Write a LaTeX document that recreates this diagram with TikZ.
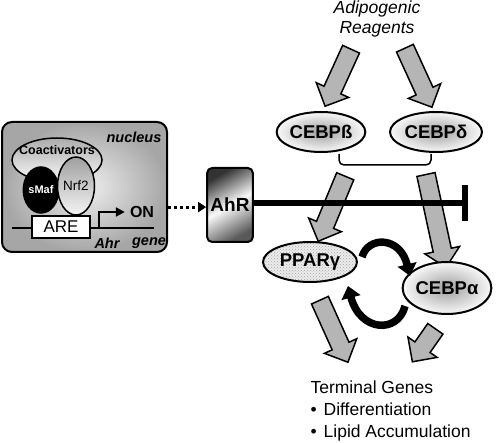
\documentclass[tikz,border=0pt]{standalone}
\usepackage{fontspec}
\setmainfont{Liberation Sans}
\usetikzlibrary{arrows.meta,shapes.geometric,shapes.arrows,patterns,calc}

% wide grey arrow from #1 to #2
\newcommand{\fatarrow}[2]{%
	\path let \p1=($(#2)-(#1)$), \n1={atan2(\y1,\x1)}, \n2={veclen(\x1,\y1)} in
		($(#1)!0.5!(#2)$) node[fat arrow,rotate=\n1,minimum height=\n2] {};}

\begin{document}
\begin{tikzpicture}[x=1pt,y=-1pt,
		nucleus box/.style={rectangle,draw,line width=2pt,rounded corners=10pt,minimum width=165pt,minimum height=130pt,inner color=gray!12,outer color=gray!70},
		cebp node/.style={ellipse,draw,line width=2pt,inner sep=0pt,font=\fontsize{18.5}{20}\selectfont\bfseries,inner color=gray!75,outer color=gray!5},
		fat arrow/.style={single arrow,draw,line width=1.5pt,fill=gray!58,inner xsep=0pt,inner ysep=8.5pt,
			single arrow head extend=8.5pt,single arrow tip angle=90},
		cycle arrow/.style={line width=7.5pt,-{Triangle[width=19pt,length=12pt]}},
		big text/.style={font=\fontsize{17.5}{22}\selectfont}]
	\useasboundingbox (0,0) rectangle (496,443);
	%
	% Nucleus with the Ahr gene.
	\node[nucleus box] (nuc) at (84.5,187) {};
	\node[font=\fontsize{14.5}{16}\selectfont\bfseries\itshape] (nlab) at (134,137) {nucleus};
	\node[ellipse,draw,line width=1.5pt,minimum width=90pt,minimum height=44pt,top color=gray!65,bottom color=gray!5] (coa) at (57,160) {};
	\node[font=\fontsize{12.5}{14}\selectfont\bfseries] (coalab) at ([yshift=10pt]coa.center) {Coactivators};
	\node[ellipse,draw,line width=1.5pt,fill=black,text=white,inner sep=0pt,minimum width=28pt,minimum height=46pt,font=\fontsize{11}{13}\selectfont\bfseries] (smaf) at (41,190) {sMaf};
	\node[ellipse,draw,line width=1.5pt,inner sep=0pt,minimum width=37pt,minimum height=58pt,top color=gray!75,bottom color=gray!8,font=\fontsize{13.5}{15}\selectfont] (nrf) at (76,186) {Nrf2};
	\coordinate (g1) at (12,228);
	\coordinate (g2) at (154,228);
	\coordinate (tss) at (99,228);
	\draw[line width=2pt] (g1) -- (g2);
	\node[rectangle,draw,line width=1.5pt,fill=white,minimum width=58pt,minimum height=22pt,font=\fontsize{17}{18}\selectfont] (are) at (61,227) {ARE};
	\node[font=\fontsize{16}{17}\selectfont\bfseries,inner sep=2pt] (on) at (142,212) {ON};
	\draw[line width=2pt,-{Triangle[width=9pt,length=9pt]},shorten >=3pt] (tss) |- (on.west);
	\node[font=\fontsize{14.5}{16}\selectfont\bfseries\itshape] (ahrg) at (107,243) {Ahr};
	\node[font=\fontsize{14.5}{16}\selectfont\bfseries\itshape] (gene) at (149,243) {gene};
	%
	% AhR protein.
	\node[rectangle,draw,line width=2pt,rounded corners=5pt,minimum width=44pt,minimum height=74pt,
		left color=black!80,right color=black!65,middle color=gray!5,shading angle=30,
		font=\fontsize{19}{21}\selectfont\bfseries] (ahr) at (230,205) {AhR};
	\draw[line width=3pt,dash pattern=on 3pt off 3pt,-{Triangle[width=10pt,length=8pt]}] (nuc.east |- ahr.185) -- (ahr.185);
	%
	% Grey arrows of the cascade.
	\coordinate (reag l) at (353,45);
	\coordinate (reag r) at (403,44);
	\coordinate (cb in) at (327,102);
	\coordinate (cd in) at (430,103);
	\coordinate (br l) at (347,172);
	\coordinate (br r) at (425,170);
	\coordinate (pp in) at (320,237);
	\coordinate (ca in) at (445,263);
	\coordinate (pp out) at (318,296);
	\coordinate (ca out) at (438,325);
	\coordinate (tg l) at (346,358);
	\coordinate (tg r) at (415,358);
	\fatarrow{reag l}{cb in}
	\fatarrow{reag r}{cd in}
	\fatarrow{br l}{pp in}
	\fatarrow{br r}{ca in}
	\fatarrow{pp out}{tg l}
	\fatarrow{ca out}{tg r}
	%
	\node[align=center,font=\fontsize{17.5}{20}\selectfont\itshape] (reag) at (377,19) {Adipogenic\\Reagents};
	\node[cebp node,minimum width=88pt,minimum height=40pt] (cebpb) at (321,132) {CEBPß};
	\node[cebp node,minimum width=92pt,minimum height=40pt] (cebpd) at (436,132) {CEBPδ};
	\node[ellipse,draw,line width=2pt,inner sep=0pt,minimum width=94pt,minimum height=40pt,
		preaction={fill=gray!15},pattern=crosshatch dots,pattern color=gray!70,
		font=\fontsize{18.5}{20}\selectfont\bfseries] (ppar) at (310,262) {PPARγ};
	\node[cebp node,minimum width=88pt,minimum height=52pt] (cebpa) at (447,288) {CEBPα};
	\node[big text,align=left,anchor=north west] (tg) at (307,377)
		{Terminal Genes\\\textbullet\hspace{7pt}Differentiation\\\textbullet\hspace{7pt}Lipid Accumulation};
	%
	% Bracket joining CEBPß and CEBPδ.
	\coordinate (bk l) at (339,154);
	\coordinate (bk m) at (385,165);
	\coordinate (bk r) at (431,154);
	\draw[line width=1.5pt,rounded corners=5pt] (bk l) |- (bk m) -| (bk r);
	%
	% AhR blocks the cascade.
	\coordinate (stop) at (468,204);
	\draw[line width=6pt,-{Bar[width=36pt]}] (ahr.5) -- (ahr.5 -| stop);
	%
	% PPARγ and CEBPα induce each other.
	\coordinate (up s) at (362,257);
	\coordinate (up e) at (410,276);
	\coordinate (lo s) at (405,306);
	\coordinate (lo e) at (348,286);
	\draw[cycle arrow] (up s) .. controls (368,236) and (400,236) .. (up e);
	\draw[cycle arrow] (lo s) .. controls (398,334) and (360,332) .. (lo e);
\end{tikzpicture}
\end{document}
